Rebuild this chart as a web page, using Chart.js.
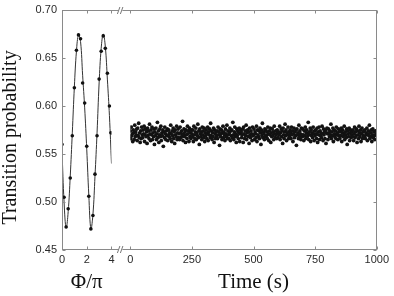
<!DOCTYPE html>
<html><head><meta charset="utf-8">
<script src="https://cdn.jsdelivr.net/npm/chart.js@4"></script>
<style>html,body{margin:0;padding:0;background:#fff;}canvas{display:block;}</style>
</head><body>
<canvas id="c" width="394" height="296"></canvas>
<script>
// ---- data ----
const phiValues = [0, 0.167, 0.333, 0.5, 0.667, 0.833, 1, 1.167, 1.333, 1.5, 1.667, 1.833, 2, 2.167, 2.333, 2.5, 2.667, 2.833, 3, 3.167, 3.333, 3.5, 3.667, 3.833, 3.95];
const phiProb = [0.560, 0.505, 0.474, 0.493, 0.525, 0.569, 0.619, 0.658, 0.674, 0.670, 0.624, 0.603, 0.558, 0.506, 0.472, 0.486, 0.529, 0.569, 0.628, 0.657, 0.673, 0.660, 0.634, 0.600, 0.572];
const fitPhi = [0, 0.167, 0.333, 0.5, 0.667, 0.833, 1, 1.167, 1.333, 1.5, 1.667, 1.833, 2, 2.167, 2.333, 2.5, 2.667, 2.833, 3, 3.167, 3.333, 3.5, 3.667, 3.833, 4];
const fitProb = [0.553, 0.500, 0.473, 0.490, 0.527, 0.572, 0.620, 0.657, 0.674, 0.667, 0.632, 0.598, 0.555, 0.507, 0.472, 0.487, 0.527, 0.572, 0.624, 0.660, 0.675, 0.662, 0.628, 0.590, 0.540];
const timeStart = 0;
const timeStep = 2;
const timeProb = [
0.574,0.566,0.578,0.569,0.571,0.563,0.575,0.572,0.565,0.580,0.568,0.573,0.570,0.576,0.564,0.577,0.569,0.582,0.567,0.572,0.562,0.574,0.566,0.578,0.570,
0.567,0.575,0.571,0.579,0.563,0.570,0.576,0.568,0.573,0.561,0.577,0.569,0.574,0.566,0.581,0.571,0.564,0.575,0.570,0.578,0.565,0.572,0.568,0.576,0.560,
0.573,0.569,0.577,0.565,0.571,0.583,0.567,0.574,0.562,0.570,0.576,0.568,0.579,0.564,0.572,0.569,0.575,0.558,0.573,0.567,0.578,0.571,0.565,0.574,0.569,
0.576,0.564,0.570,0.575,0.568,0.572,0.566,0.580,0.571,0.563,0.574,0.569,0.577,0.566,0.573,0.561,0.575,0.570,0.568,0.579,0.565,0.572,0.576,0.567,0.571,
0.565,0.578,0.572,0.567,0.574,0.569,0.584,0.564,0.571,0.576,0.568,0.573,0.562,0.575,0.570,0.566,0.579,0.571,0.574,0.563,0.577,0.568,0.572,0.566,0.575,
0.571,0.568,0.575,0.563,0.579,0.570,0.566,0.573,0.577,0.565,0.572,0.569,0.581,0.567,0.574,0.560,0.576,0.571,0.568,0.573,0.565,0.578,0.570,0.574,0.567,
0.577,0.563,0.572,0.569,0.575,0.566,0.571,0.578,0.564,0.573,0.570,0.576,0.567,0.582,0.569,0.574,0.565,0.572,0.568,0.577,0.562,0.575,0.571,0.566,0.573,
0.569,0.574,0.566,0.578,0.570,0.573,0.559,0.576,0.568,0.571,0.575,0.565,0.572,0.579,0.567,0.573,0.570,0.564,0.576,0.571,0.568,0.580,0.566,0.574,0.570,
0.566,0.572,0.577,0.564,0.574,0.569,0.575,0.567,0.583,0.570,0.565,0.573,0.578,0.568,0.571,0.562,0.576,0.569,0.574,0.566,0.572,0.577,0.563,0.571,0.575,
0.573,0.567,0.570,0.576,0.562,0.578,0.571,0.566,0.574,0.569,0.580,0.565,0.572,0.575,0.568,0.573,0.561,0.577,0.570,0.567,0.574,0.571,0.564,0.578,0.569,
0.570,0.576,0.565,0.573,0.571,0.567,0.579,0.563,0.575,0.570,0.568,0.574,0.566,0.577,0.572,0.560,0.575,0.569,0.582,0.567,0.573,0.571,0.565,0.576,0.568,
0.575,0.569,0.573,0.566,0.578,0.571,0.564,0.574,0.570,0.577,0.562,0.572,0.568,0.576,0.569,0.573,0.565,0.579,0.571,0.567,0.574,0.570,0.566,0.575,0.572,
0.567,0.573,0.570,0.579,0.565,0.572,0.576,0.568,0.574,0.561,0.577,0.570,0.566,0.573,0.581,0.569,0.575,0.564,0.572,0.570,0.578,0.566,0.573,0.569,0.575,
0.572,0.566,0.578,0.570,0.574,0.563,0.571,0.577,0.567,0.573,0.569,0.575,0.559,0.576,0.570,0.572,0.566,0.580,0.568,0.574,0.571,0.565,0.577,0.570,0.568,
0.576,0.570,0.564,0.574,0.569,0.578,0.566,0.572,0.575,0.568,0.571,0.583,0.565,0.573,0.570,0.577,0.563,0.575,0.569,0.572,0.567,0.578,0.571,0.564,0.574,
0.569,0.575,0.571,0.566,0.577,0.562,0.573,0.570,0.578,0.565,0.574,0.569,0.572,0.567,0.579,0.571,0.564,0.576,0.570,0.573,0.566,0.575,0.561,0.572,0.577,
0.571,0.565,0.576,0.572,0.568,0.574,0.570,0.581,0.566,0.573,0.569,0.577,0.563,0.575,0.571,0.568,0.574,0.566,0.578,0.570,0.572,0.565,0.576,0.569,0.573,
0.566,0.574,0.569,0.577,0.563,0.572,0.575,0.568,0.571,0.579,0.565,0.573,0.570,0.567,0.576,0.560,0.574,0.571,0.568,0.577,0.564,0.572,0.575,0.567,0.570,
0.573,0.568,0.575,0.564,0.571,0.578,0.567,0.573,0.569,0.576,0.562,0.574,0.570,0.566,0.579,0.572,0.568,0.575,0.563,0.571,0.577,0.566,0.573,0.569,0.574,
0.568,0.575,0.566,0.572,0.570,0.577,0.564,0.571,0.574,0.569,0.580,0.566,0.572,0.568,0.575,0.563,0.570,0.576,0.567,0.573,0.569,0.565,0.574,0.570,0.571
];
const yTicks = [0.45, 0.50, 0.55, 0.60, 0.65, 0.70];
const phiTicks = [0, 2, 4];
const timeTicks = [0, 250, 500, 750, 1000];

// ---- styling ----
const tickFont = {family: 'Liberation Sans', size: 11, lineHeight: 0.9};
const titleFont = {family: 'Liberation Serif', size: 20, lineHeight: 1};
const xTitleFont = {family: 'Liberation Serif', size: 21, lineHeight: 1};
const tickColor = '#2a2a2a';
const frameColor = '#8a8a8a';

const setTicks = (arr) => (scale) => { scale.ticks = arr.map(v => ({value: v})); };

const framePlugin = {
  id: 'frame',
  afterDraw(chart) {
    const {ctx, chartArea, scales} = chart;
    const L = Math.round(chartArea.left) + 0.5;
    const R = Math.round(chartArea.right) - 0.5;
    const T = Math.round(chartArea.top) + 0.5;
    const B = Math.round(chartArea.bottom) - 0.5;
    ctx.save();
    ctx.strokeStyle = frameColor;
    ctx.lineWidth = 1;
    ctx.strokeRect(L, T, R - L, B - T);
    const tl = 3;
    ctx.beginPath();
    yTicks.forEach(v => {
      const y = Math.round(scales.y.getPixelForValue(v)) + 0.5;
      ctx.moveTo(L, y); ctx.lineTo(L + tl, y);
      ctx.moveTo(R, y); ctx.lineTo(R - tl, y);
    });
    const xt = (sc, v) => Math.round(sc.getPixelForValue(v)) + 0.5;
    phiTicks.forEach(v => { const x = xt(scales.xphi, v); ctx.moveTo(x, B); ctx.lineTo(x, B - tl); ctx.moveTo(x, T); ctx.lineTo(x, T + tl); });
    timeTicks.forEach(v => { const x = xt(scales.xt, v); ctx.moveTo(x, B); ctx.lineTo(x, B - tl); ctx.moveTo(x, T); ctx.lineTo(x, T + tl); });
    ctx.stroke();
    // axis break marks
    const bx = (scales.xphi.right + scales.xt.left) / 2;
    [T, B].forEach(y => {
      ctx.fillStyle = '#fff';
      ctx.fillRect(bx - 2.5, y - 1, 4, 2);
      ctx.beginPath();
      ctx.moveTo(bx - 3.5, y + 3.5); ctx.lineTo(bx - 1, y - 3.5);
      ctx.moveTo(bx - 0.5, y + 3.5); ctx.lineTo(bx + 2, y - 3.5);
      ctx.strokeStyle = '#777';
      ctx.stroke();
    });
    ctx.restore();
  }
};

new Chart(document.getElementById('c'), {
  type: 'scatter',
  data: {
    datasets: [
      {
        label: 'fit',
        data: fitPhi.map((x, i) => ({x, y: fitProb[i]})),
        xAxisID: 'xphi', yAxisID: 'y',
        showLine: true, borderColor: '#333', borderWidth: 1, pointRadius: 0,
        tension: 0.4, order: 2
      },
      {
        label: 'phase scan',
        data: phiValues.map((x, i) => ({x, y: phiProb[i]})),
        xAxisID: 'xphi', yAxisID: 'y',
        showLine: false, pointRadius: 1.8, pointBorderWidth: 0,
        pointBackgroundColor: '#111', order: 1
      },
      {
        label: 'time',
        data: timeProb.map((y, i) => ({x: timeStart + i * timeStep, y})),
        xAxisID: 'xt', yAxisID: 'y',
        showLine: false, pointRadius: 1.9, pointBorderWidth: 0,
        pointBackgroundColor: '#121212', order: 1
      }
    ]
  },
  options: {
    responsive: false,
    animation: false,
    devicePixelRatio: 1,
    layout: {padding: {left: 0, right: 14, top: 5, bottom: 0}},
    plugins: {legend: {display: false}, tooltip: {enabled: false}},
    scales: {
      y: {
        type: 'linear', position: 'left', min: 0.45, max: 0.70,
        afterBuildTicks: setTicks(yTicks),
        afterFit: (s) => { s.width = 62; },
        grid: {display: false, drawTicks: false},
        border: {display: false},
        ticks: {font: tickFont, color: tickColor, padding: 5, callback: (v) => Number(v).toFixed(2)},
        title: {display: true, text: 'Transition probability   ', font: titleFont, color: '#111', padding: {top: 1, bottom: 0}}
      },
      xphi: {
        type: 'linear', position: 'bottom', stack: 'x', stackWeight: 50, min: 0, max: 4,
        afterBuildTicks: setTicks(phiTicks),
        afterFit: (s) => { s.height = 46; },
        grid: {display: false, drawTicks: false},
        border: {display: false},
        ticks: {font: tickFont, color: tickColor, padding: 5, maxRotation: 0, callback: (v) => String(v)},
        title: {display: true, text: 'Φ/π', font: xTitleFont, color: '#111', padding: {top: 0, bottom: 3}}
      },
      xgap: {
        type: 'linear', position: 'bottom', stack: 'x', stackWeight: 19, min: 0, max: 1,
        afterFit: (s) => { s.height = 46; },
        grid: {display: false, drawTicks: false},
        border: {display: false},
        ticks: {display: false},
        title: {display: false}
      },
      xt: {
        type: 'linear', position: 'bottom', stack: 'x', stackWeight: 249, min: 0, max: 1000,
        afterBuildTicks: setTicks(timeTicks),
        afterFit: (s) => { s.height = 46; },
        grid: {display: false, drawTicks: false},
        border: {display: false},
        ticks: {font: tickFont, color: tickColor, padding: 5, maxRotation: 0, callback: (v) => String(v)},
        title: {display: true, text: 'Time (s)', font: xTitleFont, color: '#111', padding: {top: 0, bottom: 3}}
      }
    }
  },
  plugins: [framePlugin]
});
</script>
</body></html>
